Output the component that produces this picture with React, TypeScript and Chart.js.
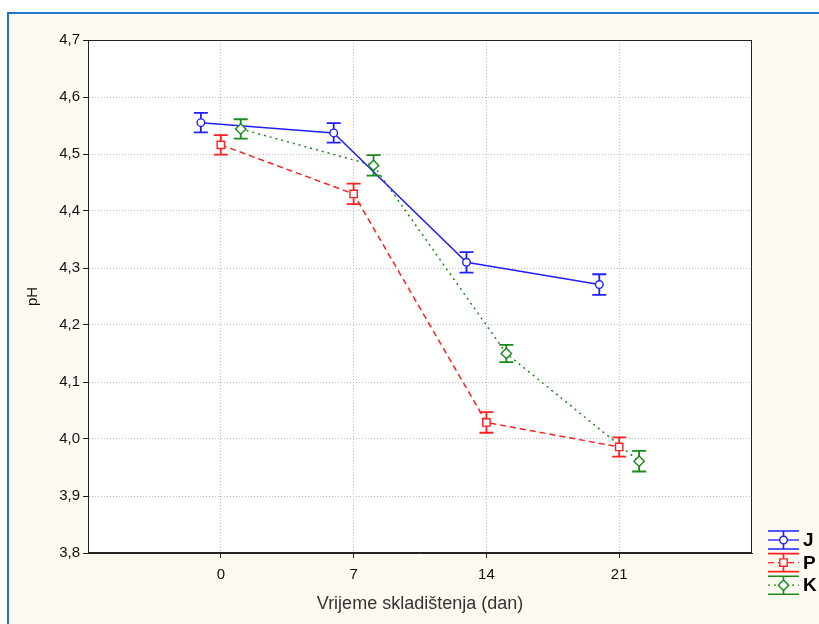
import React, { useEffect, useRef } from "react";
import { Chart, registerables } from "chart.js";

Chart.register(...registerables);

// ---- data ----
const days = [0, 7, 14, 21];
const xTickValues = [0, 7, 14, 21];
const seriesNames = ["J", "P", "K"];
const jValues = [4.555, 4.537, 4.31, 4.271];
const jErrors = [0.017, 0.017, 0.018, 0.018];
const pValues = [4.516, 4.43, 4.029, 3.986];
const pErrors = [0.017, 0.018, 0.018, 0.017];
const kValues = [4.544, 4.48, 4.15, 3.961];
const kErrors = [0.017, 0.018, 0.015, 0.018];
const seriesOffsets = [-1.05, 0, 1.05];
const xTitle = "Vrijeme skladištenja (dan)";
const yTitle = "pH";

const colors = ["#1f1fff", "#ff2020", "#1a8a1a"];
const dashes: number[][] = [[], [6, 4], [2, 4]];
const pointStyles = ["circle", "rect", "rectRot"];
const pointRadii = [3.8, 5.2, 5.2];

const allValues = [jValues, pValues, kValues];
const allErrors = [jErrors, pErrors, kErrors];

const FONT = "'Liberation Sans', Arial, sans-serif";

function drawMarker(ctx: CanvasRenderingContext2D, style: string, x: number, y: number, r: number, color: string) {
  ctx.save();
  ctx.setLineDash([]);
  ctx.fillStyle = "#ffffff";
  ctx.strokeStyle = color;
  ctx.lineWidth = 1.4;
  ctx.beginPath();
  if (style === "circle") {
    ctx.arc(x, y, r, 0, Math.PI * 2);
  } else if (style === "rect") {
    const s = Math.SQRT1_2 * r;
    ctx.rect(x - s, y - s, 2 * s, 2 * s);
  } else {
    ctx.moveTo(x, y - r);
    ctx.lineTo(x + r, y);
    ctx.lineTo(x, y + r);
    ctx.lineTo(x - r, y);
    ctx.closePath();
  }
  ctx.fill();
  ctx.stroke();
  ctx.restore();
}

const framePlugin = {
  id: "frame",
  beforeDraw(chart: any) {
    const { ctx, width, height, chartArea } = chart;
    ctx.save();
    ctx.fillStyle = "#ffffff";
    ctx.fillRect(0, 0, width, height);
    ctx.fillStyle = "#fdfaf1";
    ctx.fillRect(8, 13, width - 8, height - 13);
    ctx.strokeStyle = "#1f74d0";
    ctx.lineWidth = 2;
    ctx.beginPath();
    ctx.moveTo(8, height);
    ctx.lineTo(8, 13);
    ctx.lineTo(width, 13);
    ctx.stroke();
    ctx.fillStyle = "#ffffff";
    ctx.fillRect(chartArea.left, chartArea.top, chartArea.right - chartArea.left, chartArea.bottom - chartArea.top);
    ctx.restore();
  },
  afterDraw(chart: any) {
    const { ctx, chartArea } = chart;
    ctx.save();
    ctx.strokeStyle = "#222";
    ctx.lineWidth = 1;
    ctx.strokeRect(chartArea.left + 0.5, chartArea.top + 0.5, chartArea.right - chartArea.left - 1, chartArea.bottom - chartArea.top - 1);
    ctx.restore();

    // legend
    const lx0 = 768;
    const lx1 = 799;
    const cx = (lx0 + lx1) / 2;
    const startY = 540;
    const step = 22.6;
    seriesNames.forEach((name, i) => {
      const cy = startY + i * step;
      ctx.save();
      ctx.strokeStyle = colors[i];
      ctx.lineWidth = 1.6;
      ctx.setLineDash([]);
      ctx.beginPath();
      ctx.moveTo(lx0, cy - 9);
      ctx.lineTo(lx1, cy - 9);
      ctx.moveTo(lx0, cy + 9);
      ctx.lineTo(lx1, cy + 9);
      ctx.moveTo(cx, cy - 9);
      ctx.lineTo(cx, cy + 9);
      ctx.stroke();
      ctx.lineWidth = 1.3;
      ctx.setLineDash(dashes[i]);
      ctx.beginPath();
      ctx.moveTo(lx0, cy);
      ctx.lineTo(lx1, cy);
      ctx.stroke();
      ctx.restore();
      drawMarker(ctx, pointStyles[i], cx, cy, pointRadii[i], colors[i]);
      ctx.save();
      ctx.fillStyle = "#000";
      ctx.font = "bold 19px " + FONT;
      ctx.textBaseline = "middle";
      ctx.textAlign = "left";
      ctx.fillText(name, 803, cy + 1);
      ctx.restore();
    });
  },
};

const errorBarPlugin = {
  id: "errorBars",
  afterDatasetsDraw(chart: any) {
    const { ctx, chartArea } = chart;
    const xs = chart.scales.x;
    const ys = chart.scales.y;
    ctx.save();
    ctx.beginPath();
    ctx.rect(chartArea.left, chartArea.top, chartArea.right - chartArea.left, chartArea.bottom - chartArea.top);
    ctx.clip();
    allValues.forEach((vals, si) => {
      const errs = allErrors[si];
      vals.forEach((v, i) => {
        const x = xs.getPixelForValue(days[i] + seriesOffsets[si]);
        const yTop = ys.getPixelForValue(v + errs[i]);
        const yBot = ys.getPixelForValue(v - errs[i]);
        const yMid = ys.getPixelForValue(v);
        ctx.strokeStyle = colors[si];
        ctx.lineWidth = 1.8;
        ctx.setLineDash([]);
        ctx.beginPath();
        ctx.moveTo(x - 7, yTop);
        ctx.lineTo(x + 7, yTop);
        ctx.moveTo(x - 7, yBot);
        ctx.lineTo(x + 7, yBot);
        ctx.moveTo(x, yTop);
        ctx.lineTo(x, yBot);
        ctx.stroke();
        drawMarker(ctx, pointStyles[si], x, yMid, pointRadii[si], colors[si]);
      });
    });
    ctx.restore();
  },
};

export default function App() {
  const canvasRef = useRef<HTMLCanvasElement | null>(null);

  useEffect(() => {
    if (!canvasRef.current) return;
    const datasets = seriesNames.map((name, si) => ({
      label: name,
      data: days.map((d, i) => ({ x: d + seriesOffsets[si], y: allValues[si][i] })),
      borderColor: colors[si],
      backgroundColor: "#ffffff",
      borderWidth: 1.5,
      borderDash: dashes[si],
      pointRadius: 0,
      tension: 0,
      fill: false,
    }));

    const chart = new Chart(canvasRef.current, {
      type: "line",
      data: { datasets },
      plugins: [framePlugin, errorBarPlugin],
      options: {
        animation: false,
        responsive: false,
        maintainAspectRatio: false,
        layout: { padding: { left: 0, right: 67, top: 40, bottom: 0 } },
        plugins: {
          legend: { display: false },
          tooltip: { enabled: false },
        },
        scales: {
          x: {
            type: "linear",
            min: -7,
            max: 28,
            afterBuildTicks: (scale: any) => {
              scale.ticks = xTickValues.map((v) => ({ value: v }));
            },
            afterFit: (scale: any) => {
              scale.height = 71;
            },
            ticks: {
              color: "#111",
              font: { family: FONT, size: 15 },
              padding: 8,
              maxRotation: 0,
              autoSkip: false,
              callback: (v: any) => String(v),
            },
            grid: {
              color: "#bdbdbd",
              lineWidth: 1,
              tickColor: "#222",
              tickLength: 5,
              tickBorderDash: [],
            },
            border: { display: true, color: "#222", width: 1, dash: [1, 2] },
            title: {
              display: true,
              text: xTitle,
              color: "#333",
              font: { family: FONT, size: 18 },
              padding: { top: 0, bottom: 9 },
            },
          },
          y: {
            type: "linear",
            min: 3.8,
            max: 4.7,
            afterFit: (scale: any) => {
              scale.width = 88;
            },
            ticks: {
              stepSize: 0.1,
              color: "#111",
              font: { family: FONT, size: 15 },
              padding: 3,
              callback: (v: any) => Number(v).toFixed(1).replace(".", ","),
            },
            grid: {
              color: "#bdbdbd",
              lineWidth: 1,
              tickColor: "#222",
              tickLength: 5,
              tickBorderDash: [],
            },
            border: { display: true, color: "#222", width: 1, dash: [1, 2] },
            title: {
              display: true,
              text: yTitle,
              color: "#111",
              font: { family: FONT, size: 15 },
              padding: { top: 24, bottom: 0 },
            },
          },
        },
      } as any,
    });
    return () => chart.destroy();
  }, []);

  return (
    <div style={{ position: "fixed", left: 0, top: 0, width: 819, height: 624 }}>
      <canvas ref={canvasRef} width={819} height={624} style={{ width: 819, height: 624 }} />
    </div>
  );
}
